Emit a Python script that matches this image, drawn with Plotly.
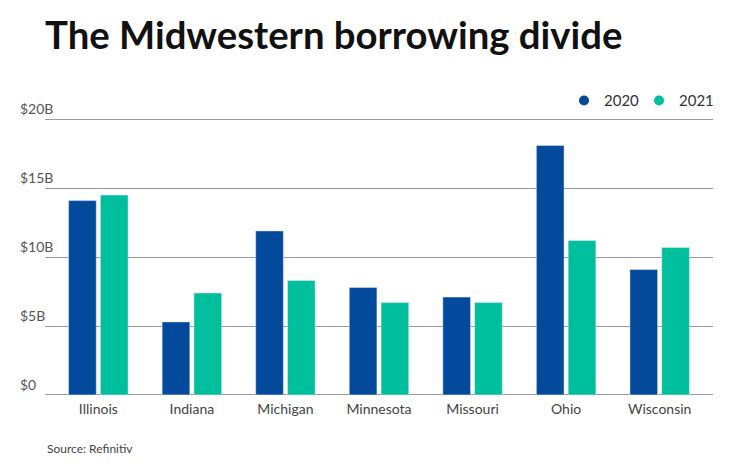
import plotly.graph_objects as go

states = ["Illinois", "Indiana", "Michigan", "Minnesota", "Missouri", "Ohio", "Wisconsin"]
v2020 = [14.1, 5.3, 11.9, 7.8, 7.1, 18.1, 9.1]
v2021 = [14.5, 7.4, 8.3, 6.7, 6.7, 11.2, 10.7]
tick_vals = [0, 5, 10, 15, 20]
tick_text = ["$0", "$5B", "$10B", "$15B", "$20B"]

C2020 = "#034A9C"
C2021 = "#00BF9C"
FONT = "Lato"

fig = go.Figure()
fig.add_trace(go.Bar(x=states, y=v2020, name="2020", marker_color=C2020, showlegend=False))
fig.add_trace(go.Bar(x=states, y=v2021, name="2021", marker_color=C2021, showlegend=False))
fig.add_trace(go.Scatter(x=[None], y=[None], mode="markers", name="2020",
                         marker=dict(symbol="circle", size=10, color=C2020)))
fig.add_trace(go.Scatter(x=[None], y=[None], mode="markers", name="2021",
                         marker=dict(symbol="circle", size=10, color=C2021)))

Y0, Y1 = -0.15, 21.4
PLOT_H = 297.4
BOTTOM = 397.4

fig.update_layout(
    width=740, height=473, autosize=False,
    margin=dict(l=45, r=27, t=100, b=473 - BOTTOM, autoexpand=False),
    paper_bgcolor="white", plot_bgcolor="white",
    font=dict(family=FONT, color="#444"),
    barmode="group", bargap=0.32, bargroupgap=0.13,
    title=dict(text="<b>The Midwestern borrowing divide</b>",
               font=dict(family=FONT, size=38.3, color="#111"),
               x=45 / 740, xanchor="left", xref="container",
               y=1 - 36 / 473, yanchor="middle", yref="container"),
    legend=dict(orientation="h", x=1 + 1 / 668, xanchor="right", xref="paper",
                y=1 - 100.7 / 473, yanchor="middle", yref="container",
                font=dict(family=FONT, size=15, color="#333"),
                itemwidth=30, entrywidth=30, entrywidthmode="pixels",
                bgcolor="rgba(0,0,0,0)"),
    xaxis=dict(type="category", range=[-0.57, 6.57], showgrid=False,
               showline=False, zeroline=False, ticks="", ticklabelstandoff=2,
               tickfont=dict(family=FONT, size=14, color="#444")),
    yaxis=dict(range=[Y0, Y1], tickvals=tick_vals, ticktext=tick_text,
               showgrid=True, gridcolor="#9a9a9a", gridwidth=1,
               zeroline=False, showline=False, ticks="",
               ticklabelposition="inside top", ticklabelstandoff=-28,
               tickfont=dict(family=FONT, size=14, color="#555")),
    annotations=[dict(text="Source: Refinitiv", x=0, xref="paper", xanchor="left",
                      y=-(449 - BOTTOM) / PLOT_H, yref="paper", yanchor="middle",
                      showarrow=False, font=dict(family=FONT, size=12, color="#444"))],
)

fig.write_html("out.html", config={"displayModeBar": False},
               post_script="document.body.style.margin='0px';")
